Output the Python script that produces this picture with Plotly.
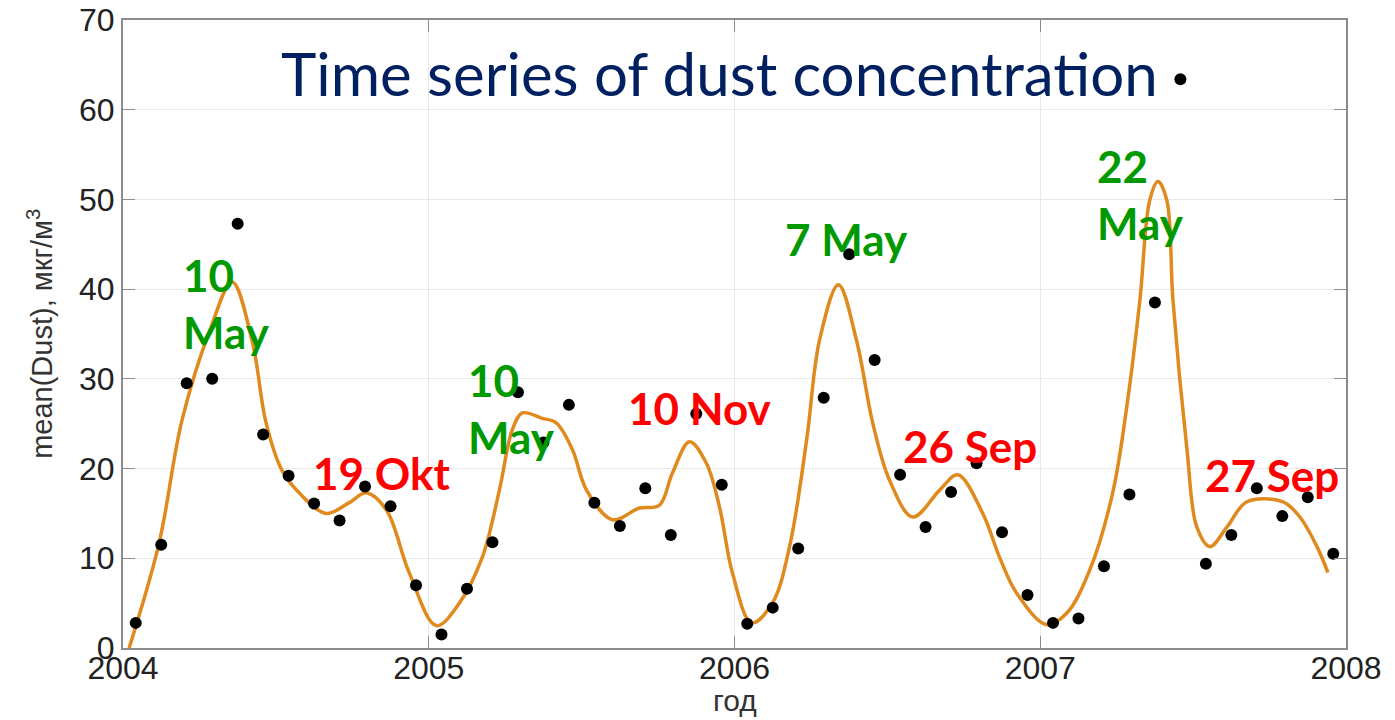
import plotly.graph_objects as go

# monthly mean dust concentration, mkg/m3
years = [2004, 2005, 2006, 2007]
dust_2004 = [2.8, 11.5, 29.5, 30.0, 47.3, 23.8, 19.2, 16.1, 14.2, 18.0, 15.8, 7.0]
dust_2005 = [1.5, 6.6, 11.8, 28.5, 22.9, 27.1, 16.2, 13.6, 17.8, 12.6, 26.1, 18.2]
dust_2006 = [2.7, 4.5, 11.1, 27.9, 43.9, 32.1, 19.3, 13.5, 17.4, 20.6, 12.9, 5.9]
dust_2007 = [2.8, 3.3, 9.1, 17.1, 38.5, 63.4, 9.4, 12.6, 17.8, 14.7, 16.8, 10.5]

# smoothed curve (years since 2004, value)
curve_t = [0.020, 0.118, 0.193, 0.285, 0.357, 0.422, 0.468, 0.520, 0.576, 0.664,
           0.740, 0.795, 0.861, 0.936, 1.025, 1.100, 1.175, 1.231, 1.273, 1.306,
           1.371, 1.417, 1.470, 1.516, 1.601, 1.689, 1.754, 1.797, 1.853, 1.908,
           1.951, 1.993, 2.056, 2.124, 2.180, 2.236, 2.278, 2.340, 2.399, 2.452,
           2.507, 2.583, 2.671, 2.730, 2.812, 2.867, 2.923, 3.021, 3.087, 3.162,
           3.237, 3.283, 3.326, 3.358, 3.385, 3.414, 3.434, 3.480, 3.512, 3.555,
           3.611, 3.676, 3.794, 3.849, 3.905, 3.941]
curve_v = [0.0, 11.7, 25.4, 35.5, 40.8, 34.3, 25.1, 19.8, 17.3, 15.0,
           16.2, 17.3, 15.4, 8.4, 2.5, 5.0, 10.1, 17.6, 24.3, 26.2,
           25.6, 25.1, 22.1, 17.6, 14.3, 15.6, 15.9, 19.5, 23.0, 20.6,
           15.7, 8.4, 2.8, 5.0, 11.3, 23.2, 34.3, 40.5, 34.3, 25.1,
           18.7, 14.6, 17.6, 19.3, 15.0, 10.1, 6.1, 2.6, 3.9, 8.7,
           17.3, 26.9, 38.8, 49.9, 52.0, 49.9, 38.8, 22.1, 13.5, 11.3,
           13.5, 16.3, 16.3, 14.6, 11.3, 8.4]

labels = ["10<br>May", "19 Okt", "10<br>May", "10 Nov", "7 May", "26 Sep", "22<br>May", "27 Sep"]
label_t = [0.19, 0.614, 1.122, 1.645, 2.159, 2.544, 3.18, 3.532]
label_v = [44.7, 22.6, 33.0, 29.9, 48.7, 25.6, 56.8, 22.4]
label_green = [True, False, True, False, True, False, True, False]

dots = dust_2004 + dust_2005 + dust_2006 + dust_2007
dot_x = [y + (m - 0.5) / 12 for y in years for m in range(1, 13)]
curve_x = [2004 + t for t in curve_t]

fig = go.Figure()
fig.add_trace(go.Scatter(x=curve_x, y=curve_v, mode='lines',
                         line=dict(color='#E08A1E', width=3.5, shape='spline', smoothing=1.0),
                         hoverinfo='skip'))
fig.add_trace(go.Scatter(x=dot_x, y=dots, mode='markers',
                         marker=dict(color='black', size=12)))

for txt, t, v, g in zip(labels, label_t, label_v, label_green):
    fig.add_annotation(x=2004 + t, y=v, text='<b>' + txt + '</b>', showarrow=False,
                       xanchor='left', yanchor='top', align='left',
                       font=dict(family='Lato', size=44, color='#009900' if g else '#FF0000'))

fig.add_annotation(x=0.488, y=0.976, xref='paper', yref='paper', text='Time series of dust concentration',
                   showarrow=False, xanchor='center', yanchor='top',
                   font=dict(family='Lato', size=60, color='#002060'))

# axis titles as annotations so they sit where the original has them
fig.add_annotation(x=0.5, y=-0.083, xref='paper', yref='paper', text='год',
                   showarrow=False, xanchor='center', yanchor='middle',
                   font=dict(family='Liberation Sans', size=30, color='#333333'))
fig.add_annotation(x=-0.068, y=0.5, xref='paper', yref='paper', text='mean(Dust), мкг/м<sup>3</sup>',
                   showarrow=False, xanchor='center', yanchor='middle', textangle=-90,
                   font=dict(family='Liberation Sans', size=29, color='#333333'))

axis_style = dict(showline=True, linecolor='#8c8c8c', linewidth=2, mirror='ticks',
                  ticks='inside', ticklen=12, tickcolor='#8c8c8c', automargin=False,
                  ticklabeloverflow='allow',
                  showgrid=True, gridcolor='#e8e8e8', gridwidth=1, zeroline=False,
                  tickfont=dict(family='Liberation Sans', size=32, color='#222222'))

fig.update_xaxes(range=[2004, 2008], dtick=1, tickformat='d', ticklabelstandoff=-9, **axis_style)
fig.update_yaxes(range=[0, 70], dtick=10, **axis_style)

# page body adds 8px, so margins are shifted to keep the plot box in place
fig.update_layout(width=1395, height=720, showlegend=False,
                  plot_bgcolor='white', paper_bgcolor='white',
                  margin=dict(l=115, r=57, t=12, b=80))

fig.write_html("out.html")
